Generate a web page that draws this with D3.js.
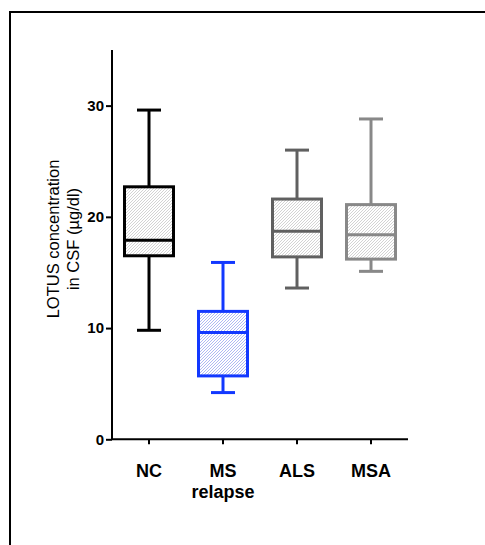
<!DOCTYPE html>
<html>
<head>
<meta charset="utf-8">
<script src="https://cdn.jsdelivr.net/npm/d3@7"></script>
<style>
body { margin: 0; background: #fff; }
svg { display: block; }
</style>
</head>
<body>
<script>
// data
var groups = ["NC", "MS relapse", "ALS", "MSA"];
var whiskerLow = [9.8, 4.2, 13.6, 15.1];
var q1 = [16.5, 5.7, 16.4, 16.2];
var medians = [17.9, 9.6, 18.7, 18.4];
var q3 = [22.7, 11.5, 21.6, 21.1];
var whiskerHigh = [29.6, 15.9, 26.0, 28.8];
var yTicks = [0, 10, 20, 30];

var colors = ["#000000", "#1238ff", "#606060", "#888888"];
var hatchColors = ["#c8c8c8", "#9aa6f0", "#c8c8c8", "#c8c8c8"];

var w = 485, h = 545;
var font = "Arial, 'Liberation Sans', sans-serif";
var svg = d3.select("body").append("svg").attr("width", w).attr("height", h);

// frame
svg.append("path")
	.attr("d", "M10,545 L10,12 L485,12")
	.attr("fill", "none")
	.attr("stroke", "#000")
	.attr("stroke-width", 2);

var x = d3.scaleBand().domain(groups).range([112, 408]).padding(0);
var y = d3.scaleLinear().domain([0, 35]).range([439.3, 50]);

// hatch patterns
var defs = svg.append("defs");
groups.forEach(function(g, i) {
	var p = defs.append("pattern")
		.attr("id", "hatch" + i)
		.attr("patternUnits", "userSpaceOnUse")
		.attr("width", 3).attr("height", 3);
	p.append("rect").attr("width", 3).attr("height", 3).attr("fill", "#fff");
	p.append("path")
		.attr("d", "M-1,1 L1,-1 M0,3 L3,0 M2,4 L4,2")
		.attr("stroke", hatchColors[i])
		.attr("stroke-width", 0.8);
});

// axes
var yAxis = svg.append("g")
	.attr("transform", "translate(112,0)")
	.call(d3.axisLeft(y).tickValues(yTicks).tickSize(6).tickPadding(2));
yAxis.select(".domain").attr("d", "M0," + y(35) + "V" + y(0)).attr("stroke-width", 2);
yAxis.selectAll(".tick line").attr("stroke-width", 2);
yAxis.selectAll("text")
	.attr("font-family", font)
	.attr("font-size", 15).attr("font-weight", "bold").attr("fill", "#000");

var xAxis = svg.append("g")
	.attr("transform", "translate(0," + y(0) + ")")
	.call(d3.axisBottom(x).tickSize(5).tickFormat(""));
xAxis.select(".domain").attr("d", "M112,0H408").attr("stroke-width", 2);
xAxis.selectAll(".tick line").attr("stroke-width", 2);

// category labels
groups.forEach(function(g) {
	var cx = x(g) + x.bandwidth() / 2;
	var t = svg.append("text")
		.attr("y", 477)
		.attr("text-anchor", "middle")
		.attr("font-family", font)
		.attr("font-size", 18).attr("font-weight", "bold");
	g.split(" ").forEach(function(part, k) {
		t.append("tspan").attr("x", cx).attr("dy", k ? 21 : 0).text(part);
	});
});

// y title
var title = svg.append("text")
	.attr("transform", "translate(0,239) rotate(-90)")
	.attr("text-anchor", "middle")
	.attr("font-family", font)
	.attr("font-size", 16.5);
title.append("tspan").attr("x", 0).attr("y", 59).text("LOTUS concentration");
title.append("tspan").attr("x", 0).attr("y", 79).text("in CSF (\u00b5g/dl)");

// boxes
var boxW = 49, capW = 24;
var box = svg.selectAll("g.box").data(groups).enter().append("g").attr("class", "box");

box.append("line")
	.attr("x1", function(d) { return x(d) + x.bandwidth() / 2; })
	.attr("x2", function(d) { return x(d) + x.bandwidth() / 2; })
	.attr("y1", function(d, i) { return y(whiskerHigh[i]); })
	.attr("y2", function(d, i) { return y(whiskerLow[i]); })
	.attr("stroke", function(d, i) { return colors[i]; })
	.attr("stroke-width", 3);

[whiskerHigh, whiskerLow].forEach(function(arr) {
	box.append("line")
		.attr("x1", function(d) { return x(d) + x.bandwidth() / 2 - capW / 2; })
		.attr("x2", function(d) { return x(d) + x.bandwidth() / 2 + capW / 2; })
		.attr("y1", function(d, i) { return y(arr[i]); })
		.attr("y2", function(d, i) { return y(arr[i]); })
		.attr("stroke", function(d, i) { return colors[i]; })
		.attr("stroke-width", 3);
});

box.append("rect")
	.attr("x", function(d) { return x(d) + x.bandwidth() / 2 - boxW / 2; })
	.attr("y", function(d, i) { return y(q3[i]); })
	.attr("width", boxW)
	.attr("height", function(d, i) { return y(q1[i]) - y(q3[i]); })
	.attr("fill", function(d, i) { return "url(#hatch" + i + ")"; })
	.attr("stroke", function(d, i) { return colors[i]; })
	.attr("stroke-width", 3);

box.append("line")
	.attr("x1", function(d) { return x(d) + x.bandwidth() / 2 - boxW / 2; })
	.attr("x2", function(d) { return x(d) + x.bandwidth() / 2 + boxW / 2; })
	.attr("y1", function(d, i) { return y(medians[i]); })
	.attr("y2", function(d, i) { return y(medians[i]); })
	.attr("stroke", function(d, i) { return colors[i]; })
	.attr("stroke-width", 3);
</script>
</body>
</html>
